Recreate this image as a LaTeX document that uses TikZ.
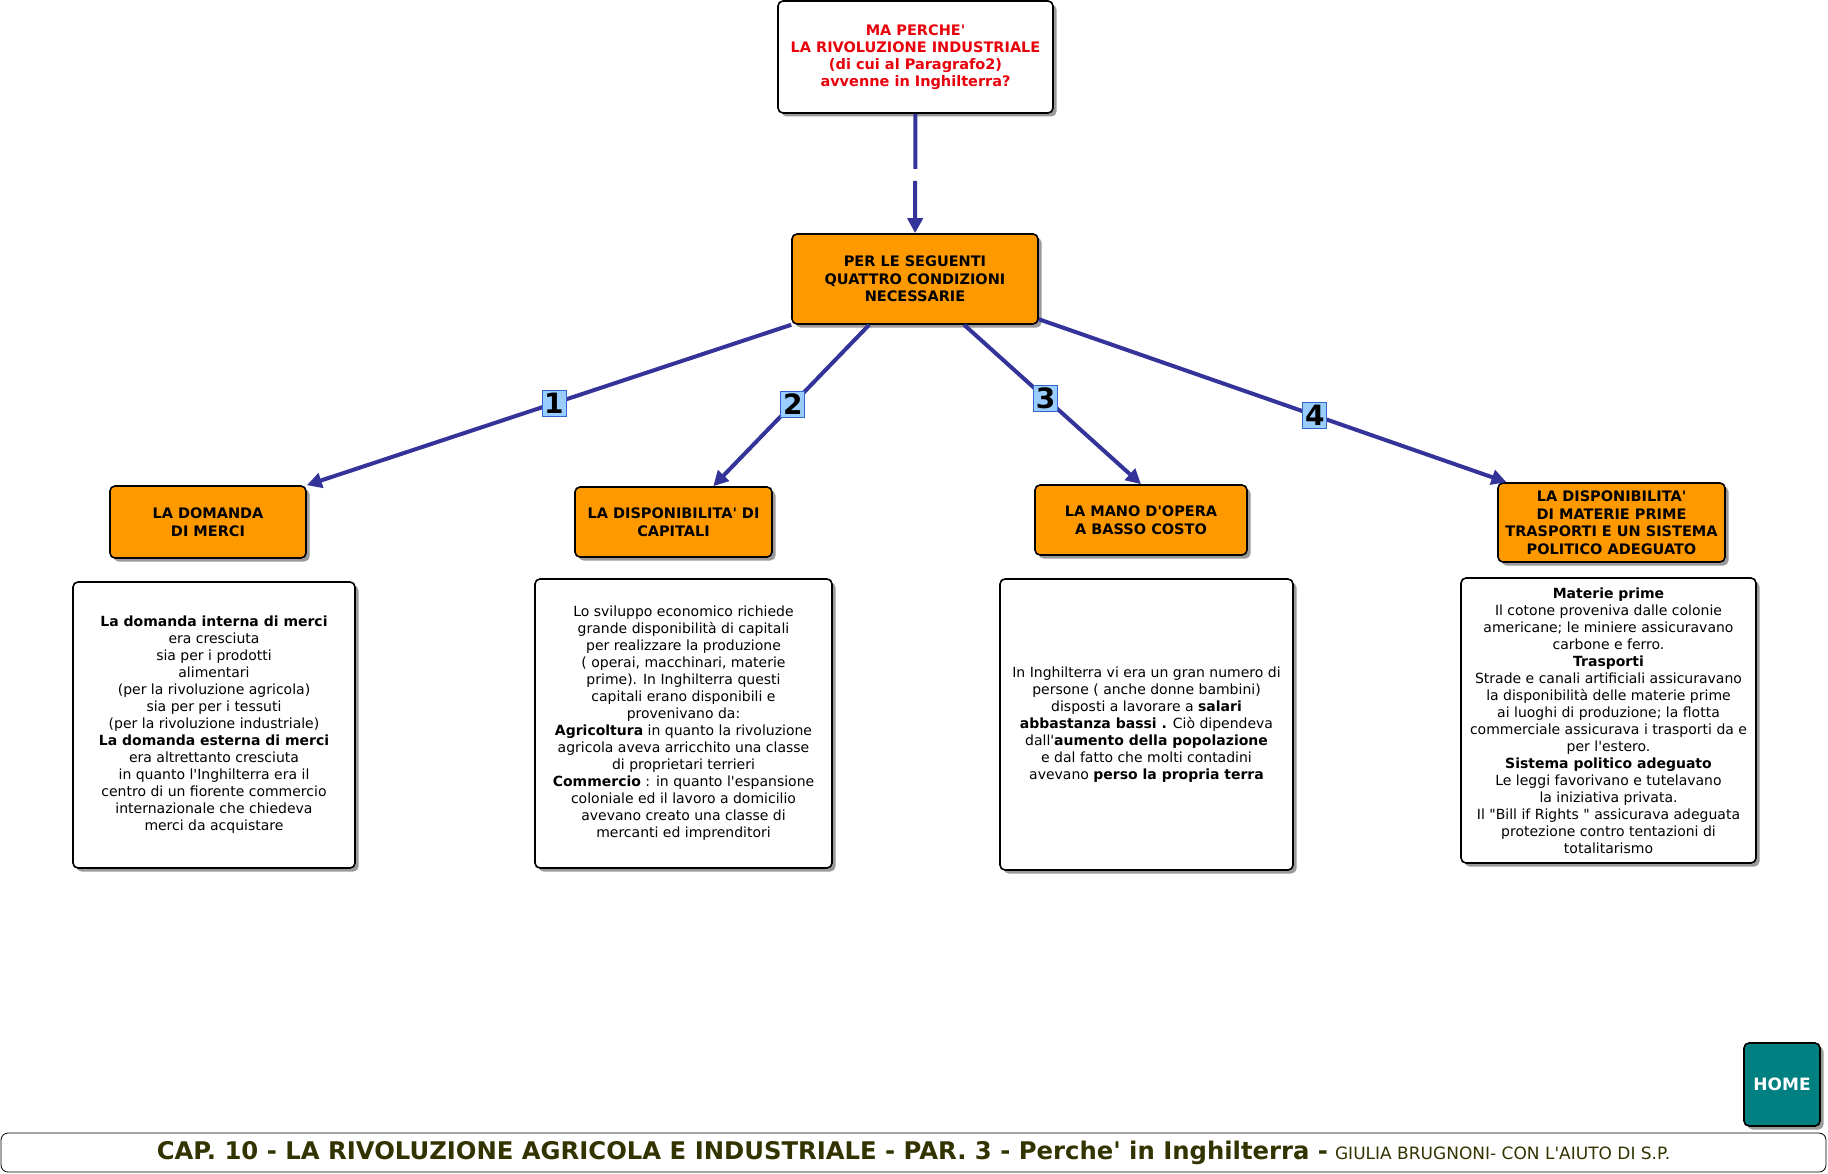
\documentclass[tikz,border=0pt]{standalone}
\usepackage{fontspec}
\newfontfamily\verdana{DejaVu Sans}
\usepackage{xcolor}
\usepackage{tikz}
\usetikzlibrary{arrows.meta,shadows}
\definecolor{boxorange}{HTML}{FF9900}
\definecolor{linkblue}{HTML}{333399}
\definecolor{askred}{HTML}{E8000B}
\definecolor{hometeal}{HTML}{008080}
\definecolor{numblue}{HTML}{99CCFF}
\definecolor{numedge}{HTML}{3366CC}
\definecolor{footolive}{HTML}{333300}
\definecolor{shade}{HTML}{9A9A9A}
\tikzset{
    box/.style={draw, line width=1.6pt, rounded corners=5pt, align=center, inner sep=2pt,
        general shadow={fill=shade, shadow xshift=3.5pt, shadow yshift=-3.5pt}},
    question/.style={box, fill=white, text=askred, font=\fontsize{14.5}{17}\selectfont\bfseries},
    condition/.style={box, fill=boxorange, font=\fontsize{14.5}{17.5}\selectfont\bfseries},
    detail/.style={box, fill=white, font=\fontsize{14}{17}\selectfont},
    homebox/.style={box, fill=hometeal, text=white, font=\fontsize{17}{20}\selectfont\bfseries},
    footer/.style={draw, line width=0.8pt, rounded corners=7pt, fill=white, text=footolive},
    link/.style={-{Triangle[length=15pt,width=15pt]}, line width=4pt, linkblue},
    number/.style={draw=numedge, line width=0.6pt, fill=numblue, text=black, inner sep=0pt,
        minimum width=24pt, minimum height=26pt, font=\fontsize{28}{28}\selectfont\bfseries}
}
\begin{document}
\verdana
\begin{tikzpicture}[x=1pt, y=-1pt]
\useasboundingbox (0,0) rectangle (1828,1174);

% Question
\node[question, minimum width=275pt, minimum height=112pt] (ask) at (915.5,57)
    {MA PERCHE'\\ LA RIVOLUZIONE  INDUSTRIALE\\ (di cui al Paragrafo2)\\ avvenne in Inghilterra?};

% Conditions
\node[condition, minimum width=246pt, minimum height=90pt] (main) at (915,279)
    {PER LE SEGUENTI\\ QUATTRO CONDIZIONI\\ NECESSARIE};
\node[condition, minimum width=196pt, minimum height=72pt] (demand) at (208,522)
    {LA DOMANDA\\ DI MERCI};
\node[condition, minimum width=197pt, minimum height=70pt] (capital) at (673.5,522)
    {LA DISPONIBILITA' DI\\ CAPITALI};
\node[condition, minimum width=212pt, minimum height=70pt] (labour) at (1141,520)
    {LA MANO D'OPERA\\ A BASSO COSTO};
\node[condition, minimum width=227pt, minimum height=79pt] (supply) at (1611.5,522.5)
    {LA DISPONIBILITA'\\ DI MATERIE PRIME\\ TRASPORTI E UN SISTEMA\\ POLITICO ADEGUATO};

% Explanations
\node[detail, minimum width=282pt, minimum height=286pt] (demandtxt) at (214,725)
    {\textbf{La domanda interna di merci}\\ era cresciuta\\ sia per i prodotti\\ alimentari\\
     (per la rivoluzione  agricola)\\ sia per per i tessuti\\ (per la rivoluzione industriale)\\
     \textbf{La domanda esterna di merci}\\ era altrettanto cresciuta\\ in quanto l'Inghilterra era il\\
     centro di un fiorente commercio\\ internazionale che chiedeva\\ merci da acquistare};
\node[detail, minimum width=297pt, minimum height=289pt] (capitaltxt) at (683.5,723.5)
    {Lo sviluppo economico richiede\\ grande disponibilità di capitali\\ per realizzare la produzione\\
     ( operai, macchinari, materie\\ prime). In Inghilterra questi\\ capitali erano disponibili e\\
     provenivano da:\\ \textbf{Agricoltura} in quanto la rivoluzione\\ agricola aveva arricchito una classe\\
     di proprietari terrieri\\ \textbf{Commercio} : in quanto l'espansione\\ coloniale ed il lavoro a domicilio\\
     avevano creato una classe di\\ mercanti ed imprenditori};
\node[detail, minimum width=293pt, minimum height=291pt] (labourtxt) at (1146.5,724.5)
    {In Inghilterra vi era un gran numero di\\ persone ( anche donne bambini)\\
     disposti a lavorare  a \textbf{salari}\\ \textbf{abbastanza bassi .} Ciò dipendeva\\
     dall'\textbf{aumento della popolazione}\\ e dal fatto che molti contadini\\
     avevano \textbf{perso la propria terra}};
\node[detail, minimum width=295pt, minimum height=285pt] (supplytxt) at (1608.5,720.5)
    {\textbf{Materie prime}\\ Il cotone proveniva dalle colonie\\ americane; le miniere assicuravano\\
     carbone e ferro.\\ \textbf{Trasporti}\\ Strade e canali artificiali assicuravano\\
     la disponibilità  delle materie prime\\ ai luoghi di produzione; la flotta\\
     commerciale assicurava i trasporti da e\\ per l'estero.\\ \textbf{Sistema politico adeguato}\\
     Le leggi favorivano e tutelavano\\ la iniziativa privata.\\
     Il "Bill if Rights " assicurava adeguata\\ protezione contro tentazioni di\\ totalitarismo};

% Home and footer
\node[homebox, minimum width=76pt, minimum height=83pt] (home) at (1782,1084.5) {HOME};
\node[footer, minimum width=1825pt, minimum height=39pt] (foot) at (913.5,1152.5)
    {{\fontsize{24.3}{26}\selectfont\bfseries CAP. 10 - LA RIVOLUZIONE AGRICOLA E INDUSTRIALE - PAR. 3 - Perche' in Inghilterra -}\hspace{7pt}{\fontsize{17}{18}\selectfont GIULIA BRUGNONI- CON L'AIUTO DI S.P.}};

% Connectors
\draw[link, dash pattern=on 55pt off 12pt on 300pt] (ask) -- (main);
\draw[link] (main.south west) -- (demand.north east) node[number, pos=0.49] {1};
\draw[link] (main.225) -- (capital.42) node[number, pos=0.49] {2};
\draw[link] (main.-43) -- (labour.north) node[number, pos=0.46] {3};
\draw[link] (main.-18) -- (supply.159) node[number, pos=0.59] {4};
\end{tikzpicture}
\end{document}
